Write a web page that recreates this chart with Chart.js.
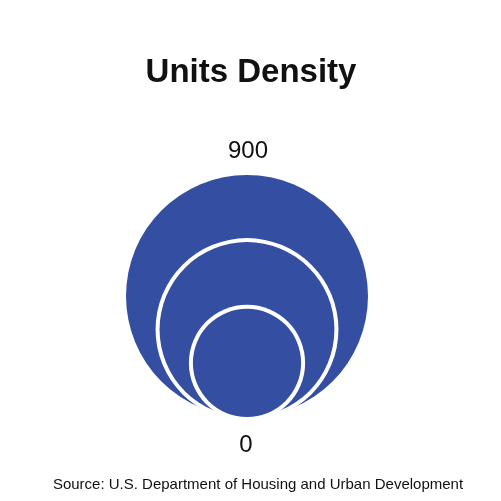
<!DOCTYPE html>
<html>
<head>
<meta charset="utf-8">
<script src="https://cdn.jsdelivr.net/npm/chart.js@4"></script>
<style>
  html, body { margin: 0; padding: 0; background: #fff; }
  #wrap { width: 501px; height: 501px; }
</style>
</head>
<body>
<div id="wrap"><canvas id="densityChart" width="501" height="501"></canvas></div>
<script>
const titleText = 'Units Density';
const sourceText = 'Source: U.S. Department of Housing and Urban Development';
const categories = ['Outer', 'Middle', 'Inner'];
const unitValues = [900, 470, 180];
const scaleMax = 900;
const scaleLabels = ['900', '0'];

const blue = '#344fa2';
const ink = '#111111';
const font = '"Liberation Sans", Arial, Helvetica, sans-serif';
const ringWidth = 4;

// y axis measured in sqrt(value) so circle area follows the value
const rootMax = Math.sqrt(scaleMax);

// every inner circle gets a white halo drawn just before it
const points = [];
unitValues.forEach((v, i) => {
  if (i > 0) points.push({ x: 0, y: Math.sqrt(v), halo: true, name: categories[i] });
  points.push({ x: 0, y: Math.sqrt(v), halo: false, name: categories[i] });
});

const textPlugin = {
  id: 'textPlugin',
  afterDraw(chart) {
    const { ctx } = chart;
    const y = chart.scales.y;
    const x = chart.scales.x;
    const cx = x.getPixelForValue(0);
    ctx.save();
    ctx.fillStyle = ink;
    ctx.textAlign = 'center';
    ctx.textBaseline = 'alphabetic';

    ctx.font = 'bold 33px ' + font;
    ctx.fillText(titleText, 251, 82);

    ctx.font = '24px ' + font;
    ctx.fillText(scaleLabels[0], cx + 1, y.getPixelForValue(rootMax * 2) - 17);
    ctx.fillText(scaleLabels[1], cx - 1, y.getPixelForValue(0) + 35);

    ctx.font = '15px ' + font;
    ctx.fillText(sourceText, 258, 489);
    ctx.restore();
  }
};

// radius in pixels = distance from the baseline (0) to the centre value
const radiusFor = c => {
  const s = c.chart.scales.y;
  if (!s || !c.raw) return 0;
  const r = s.getPixelForValue(0) - s.getPixelForValue(c.raw.y);
  return c.raw.halo ? r + ringWidth : r;
};

new Chart(document.getElementById('densityChart'), {
  type: 'scatter',
  data: {
    datasets: [{
      data: points,
      pointBackgroundColor: c => (c.raw && c.raw.halo ? '#ffffff' : blue),
      pointBorderWidth: 0,
      pointRadius: radiusFor,
      pointHoverRadius: radiusFor,
      clip: false
    }]
  },
  options: {
    responsive: false,
    animation: false,
    events: [],
    layout: { padding: { top: 175, bottom: 84, left: 126, right: 133 } },
    plugins: {
      legend: { display: false },
      title: { display: false },
      tooltip: { enabled: false }
    },
    scales: {
      x: { display: false, min: -1, max: 1 },
      y: { display: false, min: 0, max: rootMax * 2 }
    }
  },
  plugins: [textPlugin]
});
</script>
</body>
</html>
